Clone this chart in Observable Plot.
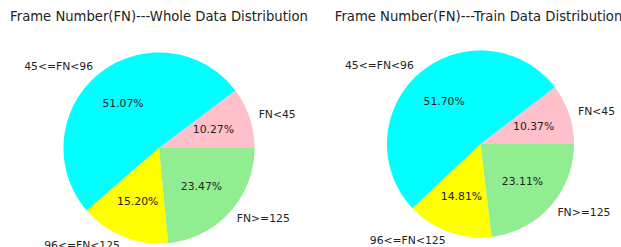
<!DOCTYPE html>
<html><head><meta charset="utf-8">
<script src="https://cdn.jsdelivr.net/npm/d3@7"></script>
<script src="https://cdn.jsdelivr.net/npm/@observablehq/plot@0.6"></script>
<style>
body{margin:0;background:#fff;}
#wrap{display:flex;width:621px;height:247px;overflow:hidden;}
</style></head>
<body><div id="wrap"></div>
<script>
const categories = ["FN<45", "45<=FN<96", "96<=FN<125", "FN>=125"];
const colors = ["#FFC0CB", "#00FFFF", "#FFFF00", "#90EE90"];
const wholeValues = [10.27, 51.07, 15.20, 23.47];
const trainValues = [10.37, 51.70, 14.81, 23.11];
const titles = ["Frame Number(FN)---Whole Data Distribution", "Frame Number(FN)---Train Data Distribution"];

const panels = [
  {title: titles[0], values: wholeValues, w: 311, h: 247, cx: 158.5, cy: 147.5, r: 95.5, tx: 158.5},
  {title: titles[1], values: trainValues, w: 310, h: 247, cx: 169, cy: 143.5, r: 93.5, tx: 167}
];

function pieData(values) {
  const total = d3.sum(values);
  let a0 = 0;
  const slices = [];
  const pts = [];
  values.forEach((v, i) => {
    const a1 = a0 + v / total * 2 * Math.PI;
    const mid = (a0 + a1) / 2;
    slices.push({label: categories[i], color: colors[i], pct: v.toFixed(2) + "%", mid});
    pts.push({label: categories[i], color: colors[i], x: 0, y: 0});
    const n = Math.max(2, Math.ceil((a1 - a0) / (Math.PI / 180)));
    for (let k = 0; k <= n; k++) {
      const a = a0 + (a1 - a0) * k / n;
      pts.push({label: categories[i], color: colors[i], x: Math.cos(a), y: Math.sin(a)});
    }
    a0 = a1;
  });
  return {slices, pts};
}

for (const p of panels) {
  const {slices, pts} = pieData(p.values);
  const outer = slices.map(s => ({...s, x: 1.1 * Math.cos(s.mid), y: 1.1 * Math.sin(s.mid)}));
  const inner = slices.map(s => ({...s, x: 0.6 * Math.cos(s.mid), y: 0.6 * Math.sin(s.mid)}));
  const chart = Plot.plot({
    width: p.w, height: p.h,
    margin: 0,
    x: {domain: [-p.cx / p.r, (p.w - p.cx) / p.r], axis: null},
    y: {domain: [-(p.h - p.cy) / p.r, p.cy / p.r], axis: null},
    style: {fontFamily: "DejaVu Sans", background: "#fff"},
    marks: [
      Plot.line(pts, {x: "x", y: "y", z: "label", fill: "color", stroke: "none", curve: "linear-closed"}),
      Plot.text(inner, {x: "x", y: "y", text: "pct", fontSize: 10.8, fill: "#222", textAnchor: "middle"}),
      Plot.text(outer.filter(d => d.x >= 0), {x: "x", y: "y", text: "label", fontSize: 10.8, fill: "#222", textAnchor: "start"}),
      Plot.text(outer.filter(d => d.x < 0), {x: "x", y: "y", text: "label", fontSize: 10.8, fill: "#222", textAnchor: "end"}),
      Plot.text([p.title], {x: () => (p.tx - p.cx) / p.r, y: () => (p.cy - 16) / p.r, text: d => d, fontSize: 13.2, fill: "#222", textAnchor: "middle"})
    ]
  });
  document.getElementById("wrap").appendChild(chart);
}
</script>
</body></html>
